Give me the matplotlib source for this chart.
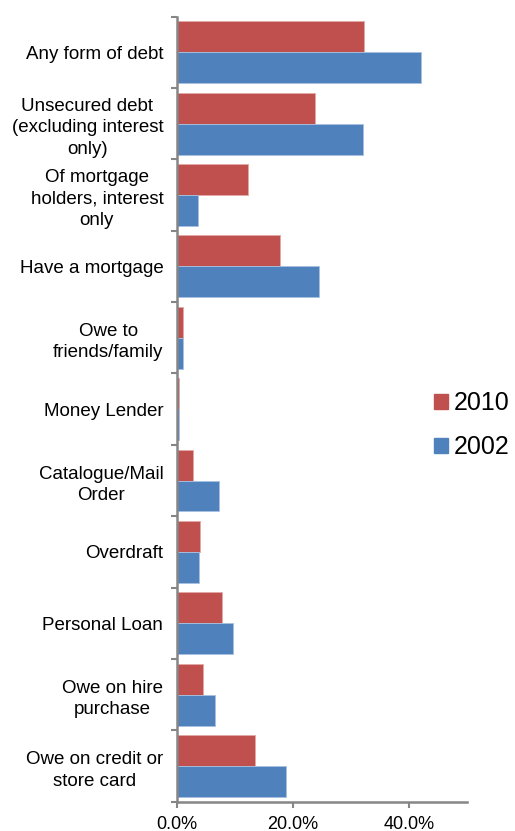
import numpy as np
import matplotlib.pyplot as plt
from matplotlib.patches import Patch
from matplotlib.ticker import FixedLocator, FuncFormatter

plt.rcParams['font.family'] = ['Liberation Sans', 'DejaVu Sans']

categories = [
    "Any form of debt",
    "Unsecured debt\n(excluding interest\nonly)",
    "Of mortgage\nholders, interest\nonly",
    "Have a mortgage",
    "Owe to\nfriends/family",
    "Money Lender",
    "Catalogue/Mail\nOrder",
    "Overdraft",
    "Personal Loan",
    "Owe on hire\npurchase",
    "Owe on credit or\nstore card",
]
share_2010 = [32.3, 23.8, 12.3, 17.7, 1.0, 0.3, 2.7, 4.0, 7.7, 4.4, 13.4]
share_2002 = [42.1, 32.1, 3.6, 24.4, 1.0, 0.3, 7.2, 3.7, 9.6, 6.5, 18.8]

red = '#C0504D'
blue = '#4F81BD'
axis_grey = '#868686'

fig = plt.figure(figsize=(5.15, 8.31), dpi=100)
ax = fig.add_axes([0.344, 0.0353, 0.563, 0.9447])

y = np.arange(len(categories))
h = 0.434
ax.barh(y - h / 2, share_2010, height=h, color=red, edgecolor='#E3A9A7', linewidth=0.6)
ax.barh(y + h / 2, share_2002, height=h, color=blue, edgecolor='#A9C1E0', linewidth=0.6)

ax.set_xlim(0, 50)
ax.set_ylim(len(categories) - 0.5, -0.5)

ax.set_xticks([0, 20, 40])
ax.xaxis.set_major_formatter(FuncFormatter(lambda v, p: f"{v:.1f}%"))
ax.tick_params(axis='x', direction='out', length=4, width=1.5, color=axis_grey,
               labelsize=13, pad=6)

ax.set_yticks(y)
ax.set_yticklabels(categories, multialignment='center')
for lbl in ax.get_yticklabels():
    lbl.set_linespacing(1.35)
ax.yaxis.set_minor_locator(FixedLocator(np.arange(-0.5, len(categories), 1.0)))
ax.tick_params(axis='y', which='major', length=0, labelsize=13.5, pad=10)
ax.tick_params(axis='y', which='minor', direction='out', length=4, width=1.5, color=axis_grey)

for side in ('top', 'right'):
    ax.spines[side].set_visible(False)
for side in ('left', 'bottom'):
    ax.spines[side].set_color(axis_grey)
    ax.spines[side].set_linewidth(1.8)

handles = [Patch(color=red, label='2010'), Patch(color=blue, label='2002')]
fig.legend(handles=handles, loc='center left', bbox_to_anchor=(0.843, 0.488),
           frameon=False, fontsize=18, handlelength=0.55, handleheight=0.55,
           handletextpad=0.22, labelspacing=0.8, borderpad=0, borderaxespad=0)

fig.savefig('out.png', dpi=100)
